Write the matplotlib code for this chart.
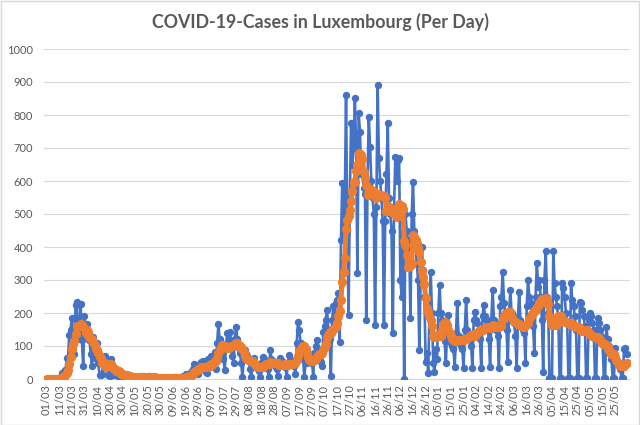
import matplotlib
matplotlib.use("Agg")
import matplotlib.pyplot as plt
import matplotlib.patches as patches
import pandas as pd

# daily new cases, one row per week (Sunday..Saturday), starting 01/03/2020
startDate = "2020-03-01"
cases = [
    0, 0, 0, 0, 0, 1, 1,
    0, 1, 2, 1, 2, 19, 12,
    13, 26, 63, 63, 132, 149, 186,
    128, 77, 224, 234, 120, 152, 226,
    119, 38, 190, 141, 168, 125, 117,
    75, 39, 127, 64, 81, 108, 47,
    11, 11, 15, 66, 71, 36, 57,
    13, 8, 60, 36, 11, 30, 16,
    12, 6, 12, 20, 18, 5, 14,
    5, 2, 10, 8, 6, 4, 5,
    5, 1, 5, 3, 7, 9, 3,
    5, 2, 2, 7, 10, 5, 2,
    4, 3, 4, 3, 4, 2, 4,
    4, 2, 0, 3, 1, 2, 3,
    1, 1, 2, 4, 5, 3, 2,
    0, 3, 4, 10, 7, 14, 10,
    3, 12, 20, 21, 30, 44, 42,
    24, 14, 38, 52, 30, 56, 40,
    20, 17, 60, 45, 70, 60, 40,
    83, 29, 110, 166, 120, 110, 100,
    60, 27, 100, 138, 120, 143, 110,
    70, 47, 120, 159, 120, 93, 80,
    50, 7, 60, 88, 75, 70, 60,
    30, 7, 45, 63, 45, 35, 30,
    25, 7, 50, 68, 60, 55, 45,
    30, 7, 88, 60, 55, 50, 40,
    30, 10, 55, 63, 55, 50, 40,
    35, 7, 50, 73, 60, 55, 45,
    40, 15, 108, 174, 150, 110, 90,
    60, 7, 50, 80, 70, 55, 50,
    60, 7, 80, 100, 118, 90, 80,
    52, 40, 143, 160, 180, 209, 150,
    120, 9, 180, 220, 200, 230, 239,
    260, 113, 420, 593, 420, 520, 860,
    450, 193, 550, 775, 650, 700, 852,
    700, 320, 805, 750, 620, 620, 580,
    560, 179, 600, 795, 704, 600, 550,
    500, 164, 520, 890, 670, 600, 550,
    480, 164, 480, 620, 775, 550, 500,
    450, 140, 520, 673, 600, 664, 670,
    300, 250, 450, 0, 500, 450, 420,
    400, 185, 500, 597, 450, 400, 350,
    300, 88, 300, 400, 330, 250, 52,
    80, 18, 200, 324, 200, 48, 21,
    90, 60, 200, 285, 200, 180, 160,
    115, 48, 150, 194, 130, 110, 100,
    90, 36, 140, 230, 130, 110, 100,
    90, 33, 150, 240, 150, 130, 120,
    100, 33, 180, 203, 180, 170, 150,
    120, 33, 190, 224, 190, 180, 160,
    120, 36, 180, 270, 180, 170, 150,
    130, 33, 220, 250, 324, 230, 200,
    150, 52, 200, 270, 200, 190, 170,
    130, 33, 180, 264, 180, 160, 150,
    140, 48, 220, 300, 250, 230, 200,
    160, 79, 250, 351, 280, 300, 250,
    180, 21, 300, 388, 250, 200, 3,
    3, 3, 388, 290, 250, 220, 180,
    3, 3, 290, 275, 250, 200, 170,
    3, 3, 290, 240, 220, 190, 150,
    3, 3, 233, 230, 210, 190, 160,
    3, 3, 179, 200, 190, 170, 150,
    3, 3, 185, 170, 150, 130, 110,
    3, 3, 158, 120, 100, 80, 60,
    3, 3, 94, 60, 50, 40, 30,
    3, 3, 90, 95, 75,
]

df = pd.DataFrame({'cases': cases})
df['date'] = pd.date_range(startDate, periods=len(cases))
# 7 day average
df['avg'] = df['cases'].rolling(7, min_periods=1).mean()

plt.rcParams['font.family'] = ['Lato', 'DejaVu Sans']

fig = plt.figure(figsize=(6.4, 4.25), dpi=100)
ax = fig.add_axes([44 / 640, 46 / 425, 586 / 640, 330 / 425])

x = list(range(len(df)))
ax.plot(x, df['cases'], color='#4472C4', lw=1.9, marker='o', ms=4.3, zorder=3)
ax.plot(x, df['avg'], color='#ED7D31', lw=3.6, marker='o', ms=5.6, zorder=4)

ticks = list(range(0, len(df), 10))
ax.set_xticks(ticks)
ax.set_xticklabels(df['date'][ticks].dt.strftime('%d/%m'), rotation=90)
ax.set_xlim(-2, 461.7)
ax.set_ylim(0, 1000)
ax.set_yticks(range(0, 1001, 100))

ax.tick_params(axis='both', length=0, colors='#595959', labelsize=8)
ax.tick_params(axis='y', pad=8)
ax.tick_params(axis='x', pad=4)
ax.grid(axis='y', color='#D9D9D9', lw=0.8)
ax.set_axisbelow(True)
for s in ['top', 'right', 'left']:
    ax.spines[s].set_visible(False)
ax.spines['bottom'].set_color('#D9D9D9')

fig.text(0.5, 1 - 22 / 425, "COVID-19-Cases in Luxembourg (Per Day)", ha='center', va='center',
         fontsize=12.8, fontweight='bold', color='#595959')

fig.patches.append(patches.Rectangle((0.001, 0.001), 0.997, 0.997, transform=fig.transFigure,
                                     fill=False, edgecolor='#D9D9D9', lw=1))

fig.savefig('out.png', dpi=100)
